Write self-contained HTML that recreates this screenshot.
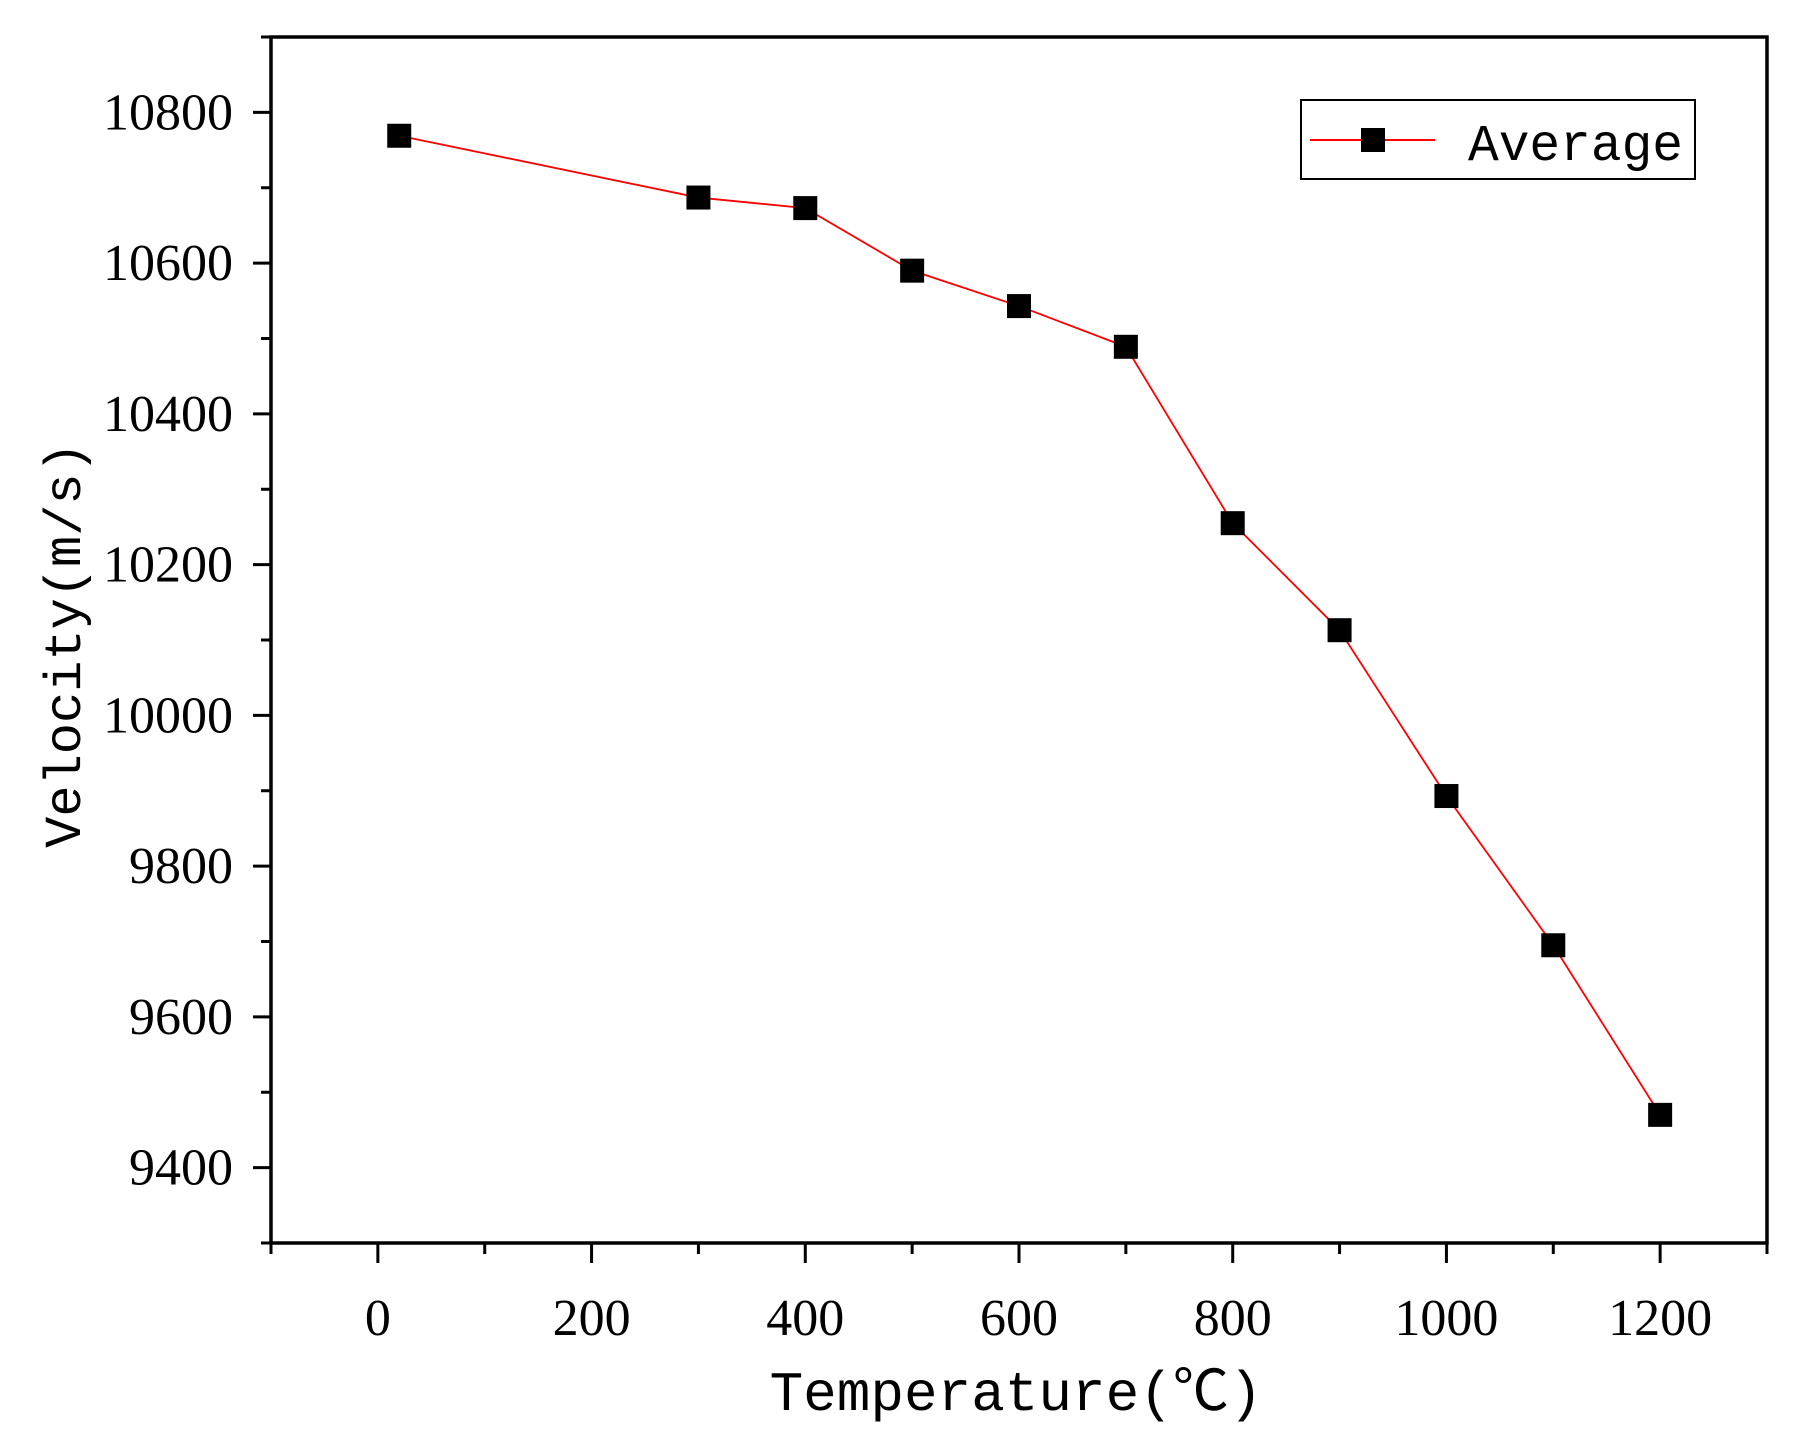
<!DOCTYPE html>
<html><head><meta charset="utf-8"><style>
html,body{margin:0;padding:0;background:#fff;}
svg{display:block;}
.tk{font-family:"Liberation Serif",serif;font-size:52px;fill:#000;}
.ti{font-family:"Liberation Mono","Noto Sans CJK SC",monospace;fill:#000;}
</style></head><body>
<svg id="chart" width="1801" height="1435" viewBox="0 0 1801 1435" xmlns="http://www.w3.org/2000/svg">
<g id="axes"></g>
<g id="series"></g>
<text class="ti" x="1016" y="1410" font-size="56" text-anchor="middle">Temperature(℃)</text>
<text class="ti" x="0" y="0" font-size="52" text-anchor="middle" transform="translate(80,645) rotate(-90)">Velocity(m/s)</text>
<g>
<rect x="1301" y="100" width="394" height="79" fill="#fff" stroke="#000" stroke-width="2"/>
<line x1="1310" y1="140" x2="1435" y2="140" stroke="#ff0000" stroke-width="2"/>
<rect x="1361" y="128" width="24" height="24" fill="#000"/>
<text class="ti" x="1468" y="160" font-size="52" textLength="215" lengthAdjust="spacingAndGlyphs">Average</text>
</g>
</svg>
<script>
const temps = [20, 300, 400, 500, 600, 700, 800, 900, 1000, 1100, 1200];
const velocities = [10769, 10687, 10673, 10590, 10543, 10489, 10255, 10113, 9893, 9695, 9470];
const xTicks = [0, 200, 400, 600, 800, 1000, 1200];
const yTicks = [9400, 9600, 9800, 10000, 10200, 10400, 10600, 10800];

const L=271, R=1767, T=37, B=1243;
const xMin=-100, xMax=1300, yMin=9300, yMax=10900;
const sx = v => L + (v - xMin) / (xMax - xMin) * (R - L);
const sy = v => B - (v - yMin) / (yMax - yMin) * (B - T);
const NS="http://www.w3.org/2000/svg";
const axes=document.getElementById('axes'), series=document.getElementById('series');
function mk(tag, attrs, parent){const e=document.createElementNS(NS,tag);for(const k in attrs)e.setAttribute(k,attrs[k]);parent.appendChild(e);return e;}

let frame=mk('rect',{x:L,y:T,width:R-L,height:B-T,fill:'none',stroke:'#000','stroke-width':3.5},axes);



for(let v=xMin; v<=xMax; v+=100){
  const major = xTicks.includes(v);
  const t=mk('line',{x1:sx(v),x2:sx(v),y1:B,y2:B+(major?20:11),stroke:'#000','stroke-width':3},axes);
  
  
}
xTicks.forEach(v=>{
  const t=mk('text',{x:sx(v),y:1335,'text-anchor':'middle',class:'tk'},axes);
  t.textContent=v;
  
  
});
for(let v=yMin; v<=yMax; v+=100){
  const major = yTicks.includes(v);
  const t=mk('line',{x1:L,x2:L-(major?18:10),y1:sy(v),y2:sy(v),stroke:'#000','stroke-width':3},axes);
  
  
}
yTicks.forEach(v=>{
  const t=mk('text',{x:233,y:sy(v)+17,'text-anchor':'end',class:'tk'},axes);
  t.textContent=v;
  
  
});

const pts=temps.map((t,i)=>sx(t)+','+sy(velocities[i])).join(' ');
const line=mk('polyline',{points:pts,fill:'none',stroke:'#ff0000','stroke-width':1.8},series);


temps.forEach((t,i)=>{
  const m=mk('rect',{x:sx(t)-12,y:sy(velocities[i])-12,width:24,height:24,fill:'#000'},series);
  
  
});
</script>
</body></html>
